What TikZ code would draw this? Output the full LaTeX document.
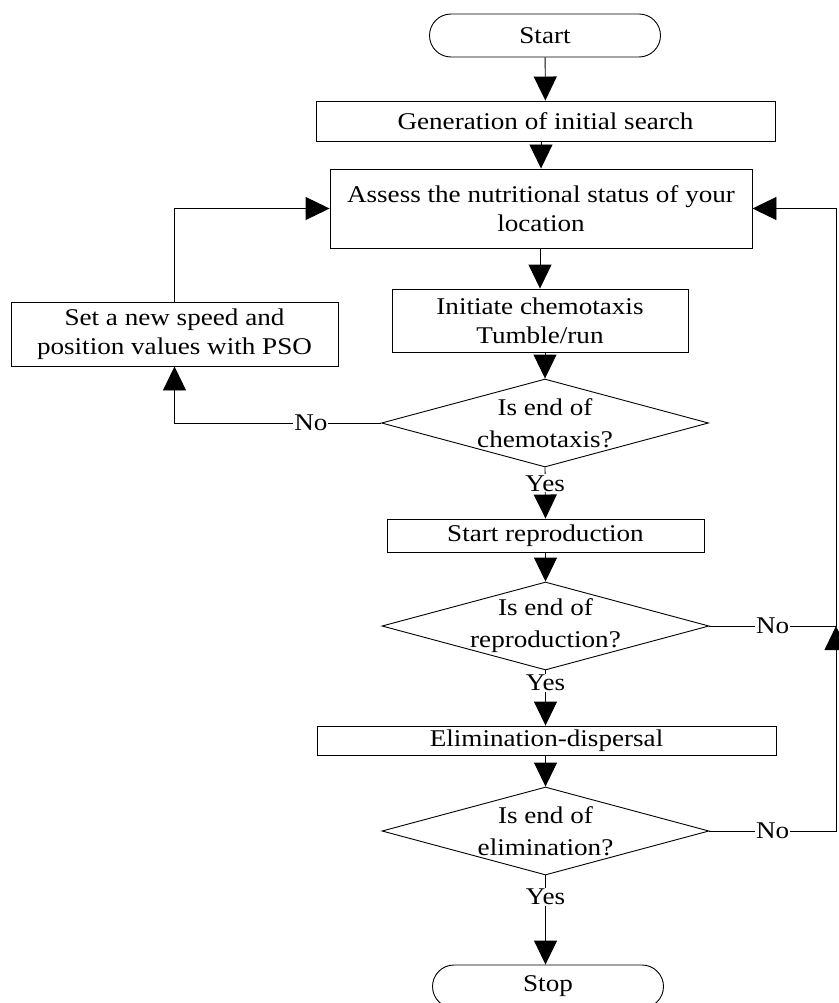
\documentclass[tikz,border=0pt]{standalone}
\usepackage{fontspec}
\setmainfont[FakeStretch=1.13]{Liberation Serif}
\usetikzlibrary{arrows.meta, shapes.geometric}
\tikzset{
    box/.style={draw, rectangle, inner sep=0pt, align=center},
    term/.style={draw, rectangle, rounded corners=21.5pt, minimum width=231pt, minimum height=43pt, inner sep=0pt},
    decision/.style={draw, diamond, minimum width=327pt, minimum height=88pt, inner sep=0pt},
    qtext/.style={align=center, font=\fontsize{24}{32}\selectfont},
    arr/.style={-{Triangle[width=23pt,length=24pt]}},
    lab/.style={fill=white, inner sep=1pt},
}

\begin{document}
\begin{tikzpicture}[x=1pt, y=-1pt, line width=0.9pt, font=\fontsize{24}{29}\selectfont]
			\useasboundingbox (0,0) rectangle (838,1003);
			\node[term] (start) at (545,35.5) {Start};
			\node[box, minimum width=459pt, minimum height=40pt] (gen) at (545.5,121) {Generation of initial search};
			\node[box, minimum width=422pt, minimum height=79pt] (assess) at (541,208.5) {Assess the nutritional status of your\\location};
			\node[box, minimum width=296pt, minimum height=63pt] (init) at (540,320.5) {Initiate chemotaxis\\Tumble/run};
			\node[box, minimum width=327pt, minimum height=64pt] (pso) at (174.5,334) {Set a new speed and\\position values with PSO};
			\node[decision, label={[qtext]center:{Is end of\\chemotaxis?}}] (d1) at (545,423) {};
			\node[box, minimum width=317pt, minimum height=33pt] (repro) at (545.5,535.5) {Start reproduction};
			\node[decision, label={[qtext]center:{Is end of\\reproduction?}}] (d2) at (545.5,626) {};
			\node[box, minimum width=459pt, minimum height=29pt] (elim) at (546.5,740.5) {Elimination-dispersal};
			\node[decision, label={[qtext]center:{Is end of\\elimination?}}] (d3) at (545.5,831) {};
			\node[term] (stop) at (548,986.5) {Stop};
			\coordinate (rt) at (836,0);

			\draw[arr] (start) -- (gen);
			\draw[arr] (gen.south -| assess) -- (assess.north);
			\draw[arr] (assess.south -| init) -- (init.north);
			\draw[arr] (init.south -| d1) -- (d1.north);
			\draw[arr] (d1.west) -| node[lab, pos=0.17] {No} (pso.south);
			\draw[arr] (pso.north) |- (assess.west);
			\draw[arr] (d1.south) -- node[lab, pos=0.31] {Yes} (repro.north);
			\draw[arr] (repro.south -| d2) -- (d2.north);
			\draw[arr] (d2.south) -- node[lab, pos=0.23] {Yes} (elim.north -| d2);
			\draw[arr] (d2.east) -- node[lab] {No} (d2.east -| rt) |- (assess.east);
			\draw[arr] (elim.south -| d3) -- (d3.north);
			\draw[arr] (d3.east) -- node[lab] {No} (d3.east -| rt) -- (d2.east -| rt);
			\draw[arr] (d3.south) -- node[lab, pos=0.24] {Yes} (stop.north -| d3);
		\end{tikzpicture}
\end{document}
